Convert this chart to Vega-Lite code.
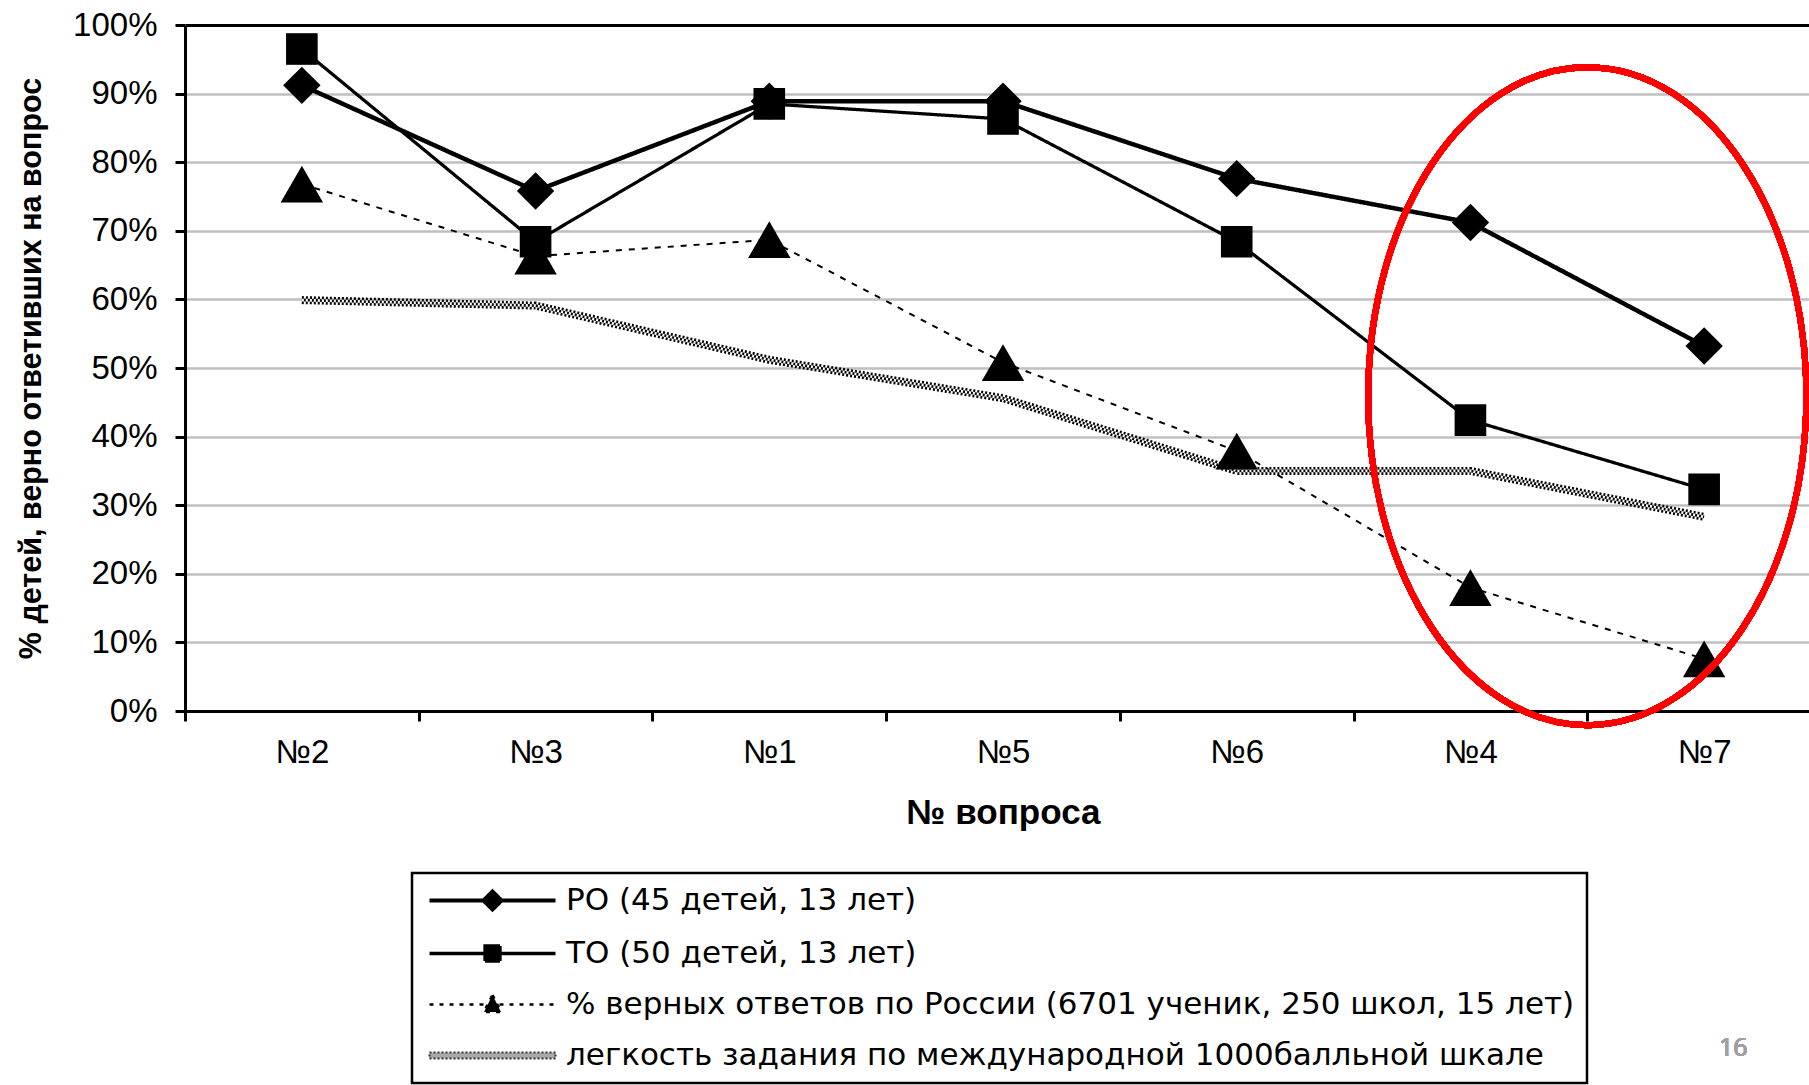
{
  "$schema": "https://vega.github.io/schema/vega-lite/v6.json",
  "width": 1636,
  "height": 686,
  "autosize": {"type": "none"},
  "padding": {"left": 185, "top": 25, "right": 0, "bottom": 374},
  "background": "white",
  "config": {"view": {"stroke": null}, "font": "Liberation Sans", "legend": {"strokeWidth": 2.5}},
  "resolve": {"scale": {"shape": "independent", "strokeWidth": "independent", "strokeDash": "independent", "stroke": "independent", "fill": "independent", "size": "independent"}},
  "data": {
    "values": [
      {"q": "№2", "s": "РО (45 детей, 13 лет)", "v": 0.912},
      {"q": "№3", "s": "РО (45 детей, 13 лет)", "v": 0.758},
      {"q": "№1", "s": "РО (45 детей, 13 лет)", "v": 0.889},
      {"q": "№5", "s": "РО (45 детей, 13 лет)", "v": 0.889},
      {"q": "№6", "s": "РО (45 детей, 13 лет)", "v": 0.776},
      {"q": "№4", "s": "РО (45 детей, 13 лет)", "v": 0.712},
      {"q": "№7", "s": "РО (45 детей, 13 лет)", "v": 0.532},
      {"q": "№2", "s": "ТО (50 детей, 13 лет)", "v": 0.965},
      {"q": "№3", "s": "ТО (50 детей, 13 лет)", "v": 0.684},
      {"q": "№1", "s": "ТО (50 детей, 13 лет)", "v": 0.885},
      {"q": "№5", "s": "ТО (50 детей, 13 лет)", "v": 0.863},
      {"q": "№6", "s": "ТО (50 детей, 13 лет)", "v": 0.684},
      {"q": "№4", "s": "ТО (50 детей, 13 лет)", "v": 0.424},
      {"q": "№7", "s": "ТО (50 детей, 13 лет)", "v": 0.323},
      {"q": "№2", "s": "% верных ответов по России (6701 ученик, 250 школ, 15 лет)", "v": 0.768},
      {"q": "№3", "s": "% верных ответов по России (6701 ученик, 250 школ, 15 лет)", "v": 0.663},
      {"q": "№1", "s": "% верных ответов по России (6701 ученик, 250 школ, 15 лет)", "v": 0.687},
      {"q": "№5", "s": "% верных ответов по России (6701 ученик, 250 школ, 15 лет)", "v": 0.508},
      {"q": "№6", "s": "% верных ответов по России (6701 ученик, 250 школ, 15 лет)", "v": 0.379},
      {"q": "№4", "s": "% верных ответов по России (6701 ученик, 250 школ, 15 лет)", "v": 0.18},
      {"q": "№7", "s": "% верных ответов по России (6701 ученик, 250 школ, 15 лет)", "v": 0.076},
      {"q": "№2", "s": "легкость задания по международной 1000балльной шкале", "v": 0.599},
      {"q": "№3", "s": "легкость задания по международной 1000балльной шкале", "v": 0.591},
      {"q": "№1", "s": "легкость задания по международной 1000балльной шкале", "v": 0.512},
      {"q": "№5", "s": "легкость задания по международной 1000балльной шкале", "v": 0.456},
      {"q": "№6", "s": "легкость задания по международной 1000балльной шкале", "v": 0.35},
      {"q": "№4", "s": "легкость задания по международной 1000балльной шкале", "v": 0.35},
      {"q": "№7", "s": "легкость задания по международной 1000балльной шкале", "v": 0.283}
    ]
  },
  "encoding": {
    "x": {
      "field": "q", "type": "nominal",
      "sort": ["№2", "№3", "№1", "№5", "№6", "№4", "№7"],
      "scale": {"type": "band", "paddingInner": 0, "paddingOuter": 0},
      "title": "№ вопроса",
      "axis": {
        "tickBand": "extent", "grid": false, "labelAngle": 0,
        "domainColor": "black", "domainWidth": 3,
        "tickColor": "black", "tickWidth": 3, "tickSize": 10,
        "labelFontSize": 33, "labelColor": "black", "labelPadding": 15,
        "titleFontSize": 35, "titleFontWeight": "bold", "titleColor": "black", "titlePadding": 26
      }
    },
    "y": {
      "field": "v", "type": "quantitative",
      "scale": {"domain": [0, 1]},
      "title": "% детей, верно ответивших на вопрос",
      "axis": {
        "values": [0, 0.1, 0.2, 0.3, 0.4, 0.5, 0.6, 0.7, 0.8, 0.9, 1],
        "format": ".0%",
        "grid": true,
        "gridColor": {"condition": {"test": "datum.value === 1", "value": "black"}, "value": "#bfbfbf"},
        "gridWidth": {"condition": {"test": "datum.value === 1", "value": 3}, "value": 2.5},
        "domainColor": "black", "domainWidth": 3,
        "tickColor": "black", "tickWidth": 3, "tickSize": 10,
        "labelFontSize": 33, "labelColor": "black", "labelPadding": 18,
        "titleFontSize": 30.5, "titleFontWeight": "bold", "titleColor": "black", "titlePadding": 26
      }
    }
  },
  "layer": [
    {
      "transform": [{"filter": "datum.s != 'легкость задания по международной 1000балльной шкале'"}],
      "mark": {"type": "line", "color": "black"},
      "encoding": {
        "strokeWidth": {"field": "s", "type": "nominal", "legend": null,
          "scale": {"domain": ["РО (45 детей, 13 лет)", "ТО (50 детей, 13 лет)", "% верных ответов по России (6701 ученик, 250 школ, 15 лет)"], "range": [4.5, 2, 2.5]}},
        "strokeDash": {"field": "s", "type": "nominal", "legend": null,
          "scale": {"domain": ["РО (45 детей, 13 лет)", "ТО (50 детей, 13 лет)", "% верных ответов по России (6701 ученик, 250 школ, 15 лет)"], "range": [[1, 0], [1, 0], [6, 7]]}}
      }
    },
    {
      "transform": [{"filter": "datum.s == 'легкость задания по международной 1000балльной шкале'"}],
      "mark": {"type": "line", "color": "black", "strokeWidth": 8, "strokeDash": [2, 2]},
      "encoding": {}
    },
    {
      "transform": [{"filter": "datum.s == 'легкость задания по международной 1000балльной шкале'"}],
      "mark": {"type": "line", "color": "white", "strokeWidth": 2.7},
      "encoding": {}
    },
    {
      "transform": [{"filter": "datum.s == 'легкость задания по международной 1000балльной шкале'"}],
      "mark": {"type": "line", "color": "black", "strokeWidth": 2.7, "strokeDash": [2, 2], "strokeDashOffset": 2},
      "encoding": {}
    },
    {
      "transform": [{"filter": "datum.s != 'легкость задания по международной 1000балльной шкале'"}],
      "mark": {"type": "point", "filled": true, "color": "black", "opacity": 1, "strokeWidth": 0},
      "encoding": {
        "shape": {
          "field": "s", "type": "nominal", "legend": null,
          "scale": {
            "domain": ["РО (45 детей, 13 лет)", "ТО (50 детей, 13 лет)", "% верных ответов по России (6701 ученик, 250 школ, 15 лет)"],
            "range": ["diamond", "square", "triangle-up"]
          }
        },
        "size": {
          "condition": [
            {"test": "datum.s == 'РО (45 детей, 13 лет)'", "value": 1400},
            {"test": "datum.s == 'ТО (50 детей, 13 лет)'", "value": 1000}
          ],
          "value": 1800
        }
      }
    },
    {
      "transform": [{"filter": "false"}],
      "mark": {"type": "point", "filled": true, "size": 400, "opacity": 1},
      "encoding": {
        "shape": {
          "field": "s", "type": "nominal",
          "scale": {
            "domain": ["РО (45 детей, 13 лет)", "ТО (50 детей, 13 лет)", "% верных ответов по России (6701 ученик, 250 школ, 15 лет)", "легкость задания по международной 1000балльной шкале"],
            "range": [
              "M-6.3,0L6.3,0M0,-0.9L0.9,0L0,0.9L-0.9,0Z",
              "M-6.3,0L6.3,0M-0.75,-0.75L0.75,-0.75L0.75,0.75L-0.75,0.75Z",
              "M-6.3,0L6.3,0M0,-0.95L0.85,0.75L-0.85,0.75Z",
              "M-6.3,-0.3L6.3,-0.3L6.3,0.3L-6.3,0.3Z"
            ]
          },
          "legend": {
            "orient": "none", "legendX": 227, "legendY": 848,
            "title": null, "symbolSize": 400, "symbolOffset": 53, "labelOffset": 58,
            "labelFont": "DejaVu Sans", "labelFontSize": 31, "labelColor": "black", "labelLimit": 0,
            "rowPadding": 19, "padding": 12, "strokeColor": "black", "fillColor": "white"
          }
        },
        "strokeWidth": {
          "field": "s", "type": "nominal",
          "scale": {
            "domain": ["РО (45 детей, 13 лет)", "ТО (50 детей, 13 лет)", "% верных ответов по России (6701 ученик, 250 школ, 15 лет)", "легкость задания по международной 1000балльной шкале"],
            "range": [4, 2, 2, 2]
          }
        },
        "strokeDash": {
          "field": "s", "type": "nominal",
          "scale": {
            "domain": ["РО (45 детей, 13 лет)", "ТО (50 детей, 13 лет)", "% верных ответов по России (6701 ученик, 250 школ, 15 лет)", "легкость задания по международной 1000балльной шкале"],
            "range": [[1, 0], [1, 0], [4, 6], [2, 2]]
          }
        },
        "stroke": {
          "field": "s", "type": "nominal",
          "scale": {
            "domain": ["РО (45 детей, 13 лет)", "ТО (50 детей, 13 лет)", "% верных ответов по России (6701 ученик, 250 школ, 15 лет)", "легкость задания по международной 1000балльной шкале"],
            "range": ["black", "black", "black", "#333333"]
          }
        },
        "fill": {
          "field": "s", "type": "nominal",
          "scale": {
            "domain": ["РО (45 детей, 13 лет)", "ТО (50 детей, 13 лет)", "% верных ответов по России (6701 ученик, 250 школ, 15 лет)", "легкость задания по международной 1000балльной шкале"],
            "range": ["black", "black", "black", "#a8a8a8"]
          }
        }
      }
    },
    {
      "mark": {"type": "point", "shape": "M0,-1A0.666,1,0,1,1,0,1A0.666,1,0,1,1,0,-1Z", "size": 432964, "filled": false, "stroke": "#ff0000", "strokeWidth": 6, "opacity": 1},
      "encoding": {
        "x": {"datum": "№4", "type": "nominal", "bandPosition": 1},
        "y": {"datum": 0.459, "type": "quantitative"}
      }
    },
    {
      "mark": {"type": "text", "text": "16", "fontSize": 25, "fontWeight": "normal", "color": "#a0a0a0", "font": "Open Sans", "align": "center", "baseline": "middle"},
      "encoding": {
        "x": {"datum": "№7", "type": "nominal", "bandPosition": 0.625},
        "y": {"datum": -0.491, "type": "quantitative"}
      }
    }
  ]
}
